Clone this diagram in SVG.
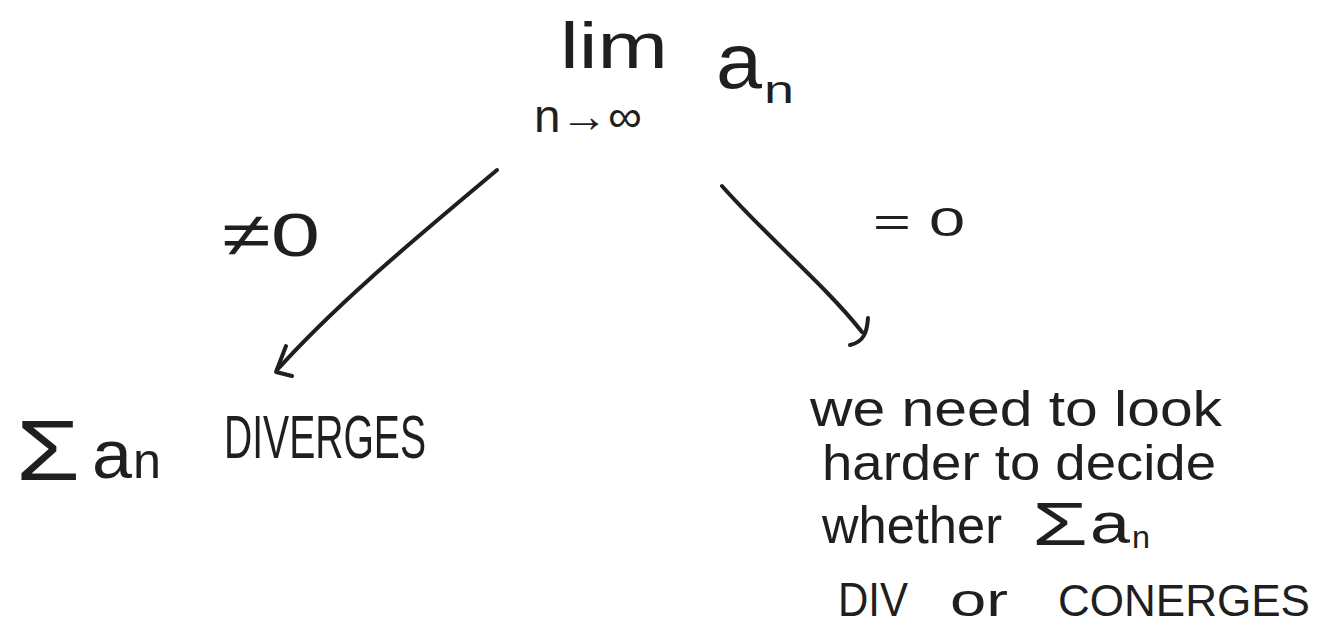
<svg xmlns="http://www.w3.org/2000/svg" width="1330" height="631" viewBox="0 0 1330 631">
  <style>
    .t { font-family: "Liberation Sans", "DejaVu Sans", sans-serif; fill: #1f1f1f; }
    .c { fill: none; stroke: #1f1f1f; stroke-width: 4; stroke-linecap: round; stroke-linejoin: round; }
  </style>
  <rect width="1330" height="631" fill="#ffffff"/>
  <g id="node-limit">
    <text class="t" x="560" y="68" font-size="64" textLength="108" lengthAdjust="spacingAndGlyphs">lim</text>
    <text class="t" x="534" y="132" font-size="46" textLength="108" lengthAdjust="spacingAndGlyphs">n→∞</text>
    <text class="t" x="716" y="88" font-size="78" textLength="46" lengthAdjust="spacingAndGlyphs">a</text>
    <text class="t" x="764" y="103" font-size="38" textLength="30" lengthAdjust="spacingAndGlyphs">n</text>
  </g>
  <g id="node-diverges">
    <text class="t" x="16" y="480" font-size="86" textLength="64" lengthAdjust="spacingAndGlyphs">Σ</text>
    <text class="t" x="92" y="478" font-size="68" textLength="40" lengthAdjust="spacingAndGlyphs">a</text>
    <text class="t" x="133" y="478" font-size="50" textLength="28" lengthAdjust="spacingAndGlyphs">n</text>
    <text class="t" x="224" y="458" font-size="62" textLength="202" lengthAdjust="spacingAndGlyphs">DIVERGES</text>
  </g>
  <g id="node-look-harder">
    <text class="t" x="810" y="426" font-size="50" textLength="412" lengthAdjust="spacingAndGlyphs">we need to look</text>
    <text class="t" x="822" y="480" font-size="50" textLength="394" lengthAdjust="spacingAndGlyphs">harder to decide</text>
    <text class="t" x="822" y="543" font-size="52" textLength="180" lengthAdjust="spacingAndGlyphs">whether</text>
    <text class="t" x="1032" y="545" font-size="62" textLength="56" lengthAdjust="spacingAndGlyphs">Σ</text>
    <text class="t" x="1090" y="543" font-size="58" textLength="40" lengthAdjust="spacingAndGlyphs">a</text>
    <text class="t" x="1132" y="548" font-size="32" textLength="18" lengthAdjust="spacingAndGlyphs">n</text>
    <text class="t" x="838" y="616" font-size="48" textLength="70" lengthAdjust="spacingAndGlyphs">DIV</text>
    <text class="t" x="950" y="616" font-size="46" textLength="58" lengthAdjust="spacingAndGlyphs">or</text>
    <text class="t" x="1058" y="616" font-size="44" textLength="252" lengthAdjust="spacingAndGlyphs">CONERGES</text>
  </g>
  <g id="connectors">
    <path class="c" d="M497,170 C420,235 340,300 277,370"/>
    <path class="c" d="M286,346 L276,372 L292,376"/>
    <text class="t" x="222" y="256" font-size="62" textLength="98" lengthAdjust="spacingAndGlyphs">≠0</text>
    <path class="c" d="M722,186 C765,235 825,285 862,332"/>
    <path class="c" d="M868,318 C867,332 864,342 850,345"/>
    <text class="t" x="873" y="236" font-size="40" textLength="92" lengthAdjust="spacingAndGlyphs">= 0</text>
  </g>
</svg>
